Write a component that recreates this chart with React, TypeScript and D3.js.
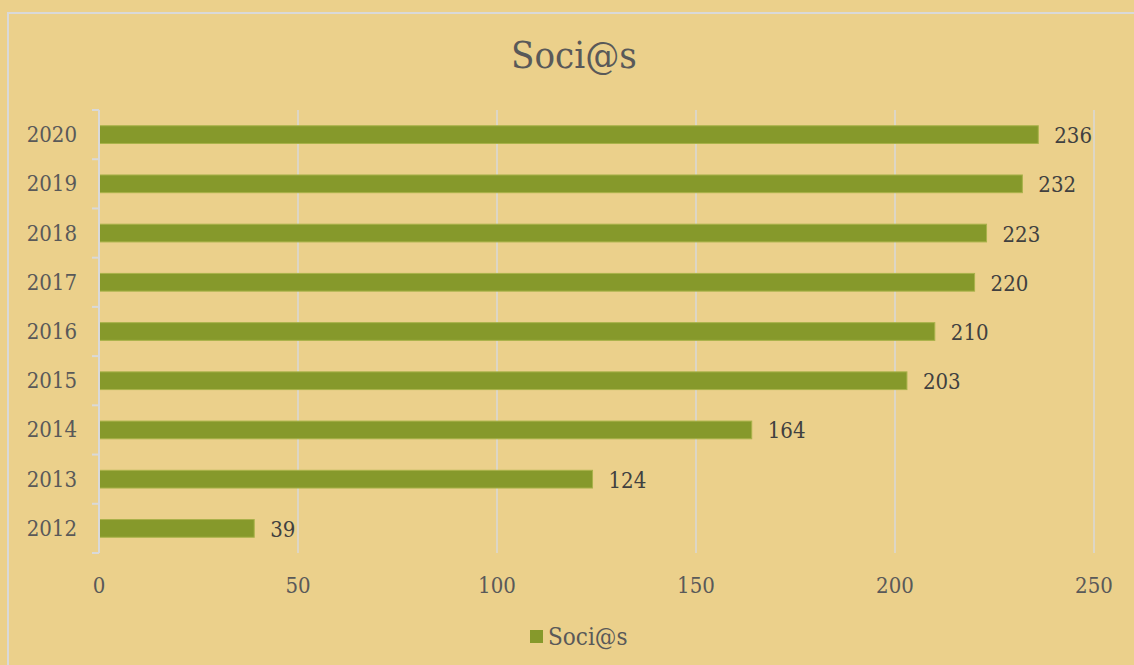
import React from "react";
import * as d3 from "d3";

const years = ["2012", "2013", "2014", "2015", "2016", "2017", "2018", "2019", "2020"];
const socias = [39, 124, 164, 203, 210, 220, 223, 232, 236];
const xTicks = [0, 50, 100, 150, 200, 250];
const title = "Soci@s";
const seriesName = "Soci@s";

const W = 1134;
const H = 665;
const FONT = "'DejaVu Serif Condensed', 'DejaVu Serif', serif";
const BG = "#EBD08B";
const BAR = "#86992B";
const GRID = "#D9D9D9";
const TEXT = "#595959";
const LABEL = "#404040";

export default function App() {
  const margin = { left: 99, right: W - 1094, top: 110, bottom: H - 553 };
  const x = d3.scaleLinear().domain([0, 250]).range([margin.left, W - margin.right]);
  const order = [...years].reverse();
  const y = d3
    .scaleBand<string>()
    .domain(order)
    .range([margin.top, H - margin.bottom])
    .paddingInner(0.64)
    .paddingOuter(0.32);
  const bandTop = margin.top;
  const bandBottom = H - margin.bottom;
  const boundaries = d3.range(years.length + 1).map((i) => bandTop + ((bandBottom - bandTop) * i) / years.length);

  return (
    <svg
      width={W}
      height={H}
      style={{ position: "absolute", left: 0, top: 0, display: "block" }}
      fontFamily={FONT}
    >
      <rect x={0} y={0} width={W} height={H} fill={BG} />
      <rect x={8} y={13} width={W + 20} height={H + 20} fill="none" stroke={GRID} strokeWidth={2} />
      <text x={574} y={68} textAnchor="middle" fontSize={38} fill={TEXT}>
        {title}
      </text>
      {xTicks.map((t) =>
        t === 0 ? null : (
          <line key={t} x1={x(t)} x2={x(t)} y1={bandTop} y2={bandBottom} stroke={GRID} strokeWidth={1.5} />
        )
      )}
      {xTicks.map((t) => (
        <text key={"l" + t} x={x(t)} y={585} textAnchor="middle" dominantBaseline="central" fontSize={22} fill={TEXT}>
          {t}
        </text>
      ))}
      {years.map((yr, i) => (
        <g key={yr}>
          <rect
            x={x(0)}
            y={y(yr)!}
            width={x(socias[i]) - x(0)}
            height={y.bandwidth()}
            fill={BAR}
            stroke="#A9B24A"
            strokeWidth={1}
          />
          <text
            x={x(socias[i]) + 16}
            y={y(yr)! + y.bandwidth() / 2 + 1}
            dominantBaseline="central"
            fontSize={22}
            fill={LABEL}
          >
            {socias[i]}
          </text>
          <text
            x={77}
            y={y(yr)! + y.bandwidth() / 2}
            textAnchor="end"
            dominantBaseline="central"
            fontSize={22}
            fill={TEXT}
          >
            {yr}
          </text>
        </g>
      ))}
      <line x1={x(0)} x2={x(0)} y1={bandTop} y2={bandBottom} stroke={GRID} strokeWidth={2} />
      {boundaries.map((b, i) => (
        <line key={"t" + i} x1={92} x2={x(0)} y1={b} y2={b} stroke={GRID} strokeWidth={2} />
      ))}
      <rect x={530} y={630} width={13} height={13} fill={BAR} />
      <text x={548} y={637} dominantBaseline="central" fontSize={24} fill={TEXT}>
        {seriesName}
      </text>
    </svg>
  );
}
